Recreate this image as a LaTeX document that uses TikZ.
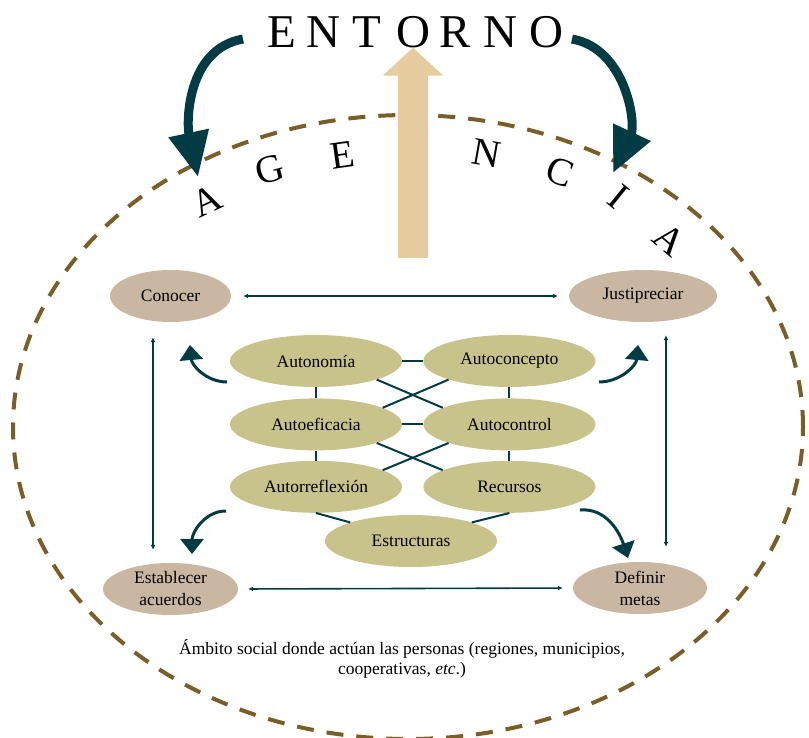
\documentclass[tikz,border=0pt]{standalone}
\usepackage{fontspec}
\setmainfont{Liberation Serif}
\usetikzlibrary{positioning,shapes.geometric,arrows.meta}

\definecolor{deepteal}{HTML}{013C45}
\definecolor{ringbrown}{HTML}{7A5E27}
\definecolor{sandtan}{HTML}{E6CC9E}
\definecolor{actfill}{HTML}{C9B7A2}
\definecolor{selffill}{HTML}{C8C28B}
\newcommand{\lblfont}{\fontsize{17.5}{22}\selectfont}

\tikzset{
  actnode/.style={ellipse, fill=actfill, inner sep=0pt, minimum height=52pt, align=center, font=\lblfont},
  selfnode/.style={ellipse, fill=selffill, inner sep=0pt, minimum width=172pt, minimum height=52pt, font=\lblfont},
  link/.style={deepteal, line width=2pt},
  twoway/.style={deepteal, line width=1.6pt, {Latex[length=5pt,width=5pt]}-{Latex[length=5pt,width=5pt]}},
  bendarrow/.style={deepteal, line width=3pt, -{Triangle[length=15pt,width=23pt]}},
  bigarrow/.style={deepteal, line width=9pt, -{Triangle[length=45pt,width=39pt]}},
  bigletter/.style={inner sep=0pt, font=\fontsize{47}{47}\selectfont},
  arcletter/.style={inner sep=0pt, font=\fontsize{39}{39}\selectfont},
}

\begin{document}
\begin{tikzpicture}[x=1pt, y=1pt]
    \useasboundingbox (0,0) rectangle (809,-737);

    % Agency ring
    \draw[ringbrown, line width=4pt, dash pattern=on 17pt off 13pt] (408,-427) ellipse [x radius=395, y radius=312];

    % Environment word
    \foreach \ch/\xx [count=\i] in {E/282, N/323, T/367, O/413, R/455, N/500, O/546}
        \node[bigletter, anchor=base] (env\i) at (\xx,-47) {\ch};

    % Agency word along the ring
    \foreach \ch/\xx/\yy/\rot [count=\i] in {A/207/201/25, G/270/170/15, E/343/155/8, N/487/153/-10, C/560/172/-20, I/619/197/-39, A/670/240/-40}
        \node[arcletter, rotate=\rot] (ag\i) at (\xx,-\yy) {\ch};

    % Rising arrow to the environment
    \coordinate (risebase) at (413,-258);
    \draw[sandtan, line width=30pt, -{Triangle[length=28pt,width=59pt]}] (risebase) -- (env4.south);

    % Environment acting on agency
    \coordinate (leftfrom) at (243,-39);
    \coordinate (lefttip) at (198,-177);
    \coordinate (rightfrom) at (572,-39);
    \coordinate (righttip) at (613,-173);
    \draw[bigarrow] (leftfrom) to[out=190, in=102] (lefttip);
    \draw[bigarrow] (rightfrom) to[out=-10, in=65] (righttip);

    % Actions
    \node[actnode, minimum width=121pt] (conocer) at (170.5,-296) {Conocer};
    \node[actnode, minimum width=148pt] (justipreciar) at (643,-296) {Justipreciar};
    \node[actnode, minimum width=135pt] (acuerdos) at (170.5,-589) {Establecer\\acuerdos};
    \node[actnode, minimum width=134pt] (metas) at (640,-588) {Definir\\metas};

    % Self traits
    \node[selfnode] (autonomia) at (316,-361) {Autonomía};
    \node[selfnode, right=21pt of autonomia] (autoconcepto) {Autoconcepto};
    \node[selfnode, below=11pt of autonomia] (autoeficacia) {Autoeficacia};
    \node[selfnode, right=21pt of autoeficacia] (autocontrol) {Autocontrol};
    \node[selfnode, below=10pt of autoeficacia] (autorreflexion) {Autorreflexión};
    \node[selfnode, right=21pt of autorreflexion] (recursos) {Recursos};
    \node[selfnode] (estructuras) at (411,-541) {Estructuras};

    % Links between traits
    \draw[link] (autonomia) -- (autoconcepto);
    \draw[link] (autoeficacia) -- (autocontrol);
    \draw[link] (autonomia) -- (autoeficacia);
    \draw[link] (autoeficacia) -- (autorreflexion);
    \draw[link] (autoconcepto) -- (autocontrol);
    \draw[link] (autocontrol) -- (recursos);
    \draw[link] (autonomia.-17) -- (autocontrol.166);
    \draw[link] (autoconcepto.197) -- (autoeficacia.14);
    \draw[link] (autoeficacia.-17) -- (recursos.166);
    \draw[link] (autocontrol.197) -- (autorreflexion.14);
    \draw[link] (autorreflexion.south) -- (estructuras.163);
    \draw[link] (recursos.south) -- (estructuras.17);

    % Links between actions
    \draw[twoway, shorten <=12pt, shorten >=11pt] (conocer.east) -- (justipreciar.west);
    \draw[twoway, shorten <=10pt, shorten >=10pt] (acuerdos.east) -- (metas.west);
    \draw[twoway, shorten <=15pt, shorten >=13pt] ([xshift=-17.5pt]conocer.south) -- ([xshift=-17.5pt]acuerdos.north);
    \draw[twoway, shorten <=13pt, shorten >=15pt] ([xshift=23pt]justipreciar.south) -- ([xshift=26pt]metas.north);

    % Traits feeding actions
    \coordinate (upleftfrom) at (227,-382);
    \coordinate (uplefttip) at (190,-345);
    \coordinate (uprightfrom) at (599,-382);
    \coordinate (uprighttip) at (638,-345);
    \coordinate (downleftfrom) at (226,-511);
    \coordinate (downlefttip) at (192,-554);
    \coordinate (downrightfrom) at (580,-510);
    \coordinate (downrighttip) at (628,-558);
    \draw[bendarrow] (upleftfrom) to[out=180, in=-85] (uplefttip);
    \draw[bendarrow] (uprightfrom) to[out=0, in=-95] (uprighttip);
    \draw[bendarrow] (downleftfrom) to[out=180, in=90] (downlefttip);
    \draw[bendarrow] (downrightfrom) to[out=5, in=108] (downrighttip);

    % Scope note
    \node[font=\fontsize{17.5}{20}\selectfont, align=center] (ambito) at (402,-659) {Ámbito social donde actúan las personas (regiones, municipios,\\cooperativas, \textit{etc}.)};
\end{tikzpicture}
\end{document}
